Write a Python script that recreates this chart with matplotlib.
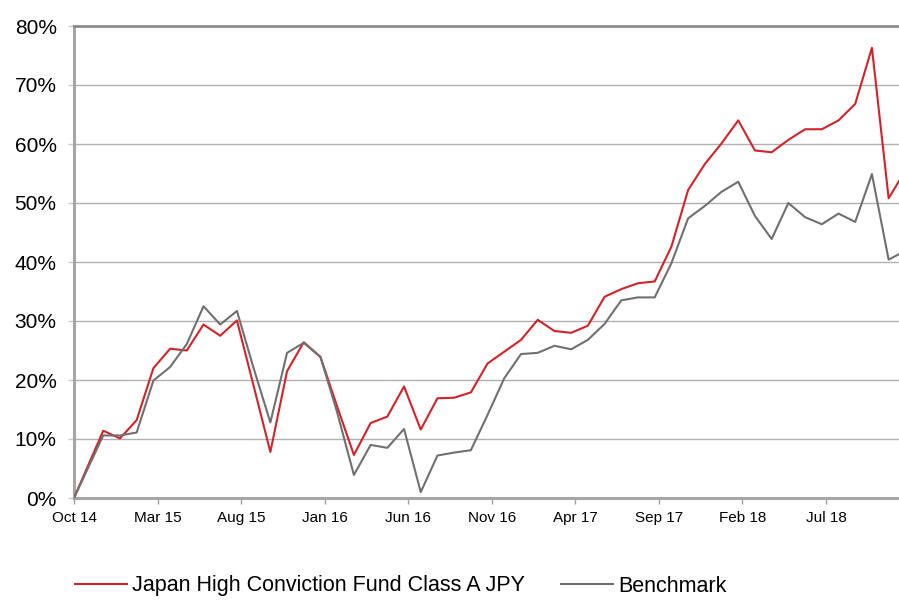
import numpy as np
import matplotlib
matplotlib.use('Agg')
import matplotlib.pyplot as plt
from matplotlib.ticker import FuncFormatter

plt.rcParams['font.family'] = ['Liberation Sans', 'DejaVu Sans']

# cumulative performance (%): launch point, then month ends
fund = [0, 11.4, 10.1, 13.2, 22.0, 25.3, 25.0, 29.4, 27.5,
        30.1, 19.0, 7.8, 21.5, 26.4, 23.9, 15.5, 7.3, 12.7, 13.8,
        18.9, 11.6, 16.9, 17.0, 17.9, 22.8, 24.8, 26.8, 30.2, 28.3,
        28.0, 29.2, 34.1, 35.4, 36.4, 36.7, 42.6, 52.2, 56.6, 60.1,
        64.0, 58.9, 58.6, 60.7, 62.5, 62.5, 64.0, 66.8, 76.3, 50.8,
        55.5]
bench = [0, 10.6, 10.6, 11.1, 19.9, 22.2, 26.1, 32.5, 29.4,
         31.7, 22.0, 12.8, 24.6, 26.3, 23.9, 14.5, 3.9, 9.0, 8.5,
         11.7, 1.0, 7.2, 7.7, 8.1, 14.1, 20.3, 24.4, 24.6, 25.8,
         25.2, 26.8, 29.5, 33.5, 34.0, 34.0, 39.8, 47.4, 49.5, 51.9,
         53.6, 47.8, 43.9, 50.0, 47.6, 46.4, 48.2, 46.8, 54.9, 40.4,
         41.9]
tick_labels = ['Oct 14', 'Mar 15', 'Aug 15', 'Jan 16', 'Jun 16', 'Nov 16',
               'Apr 17', 'Sep 17', 'Feb 18', 'Jul 18']

# months since Oct 14 (launch at 0, month-end values after)
months = np.r_[0, np.arange(1, len(fund)) + 0.75]

fig = plt.figure(figsize=(8.99, 6), dpi=100)
ax = fig.add_axes([74/899, 1 - 498/600, 1 - 74/899, (498 - 26)/600])

ax.plot(months, fund, color='#d2232a', lw=1.5, label='Japan High Conviction Fund Class A JPY', zorder=3)
ax.plot(months, bench, color='#707070', lw=1.5, label='Benchmark', zorder=3)

ax.set_xlim(0, 49.37)
ax.set_ylim(0, 80)
ax.set_yticks(np.arange(0, 81, 10))
ax.yaxis.set_major_formatter(FuncFormatter(lambda v, p: '%d%%' % v))
ax.set_xticks(np.arange(0, 5 * len(tick_labels), 5))
ax.set_xticklabels(tick_labels, fontsize=11)
ax.tick_params(axis='y', labelsize=15, length=4, width=1, color='#c8c8c8', pad=8.5)
ax.tick_params(axis='x', length=4, width=1, color='#a0a0a0', pad=5.5)

ax.grid(axis='y', color='#b0b0b0', lw=1)
ax.set_axisbelow(True)
for s in ['left', 'bottom']:
    ax.spines[s].set_color('#a6a6a6')
    ax.spines[s].set_linewidth(2.2)
ax.spines['top'].set_color('#8c8c8c')
ax.spines['top'].set_linewidth(2)
ax.spines['right'].set_visible(False)

fig.legend(loc='center left', bbox_to_anchor=(75/899, 14/600), ncol=2, frameon=False,
           borderpad=0, borderaxespad=0, handlelength=2.4, handletextpad=0.27,
           columnspacing=1.65, fontsize=15.5)

fig.savefig('out.png', dpi=100)
